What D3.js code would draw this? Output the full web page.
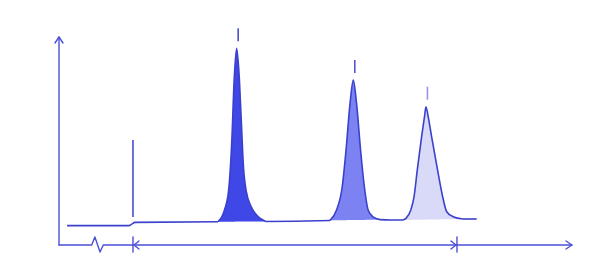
<!DOCTYPE html>
<html>
<head>
<meta charset="utf-8">
<script src="https://cdn.jsdelivr.net/npm/d3@7"></script>
<style>
  body { margin: 0; background: #fff; }
  svg { display: block; }
</style>
</head>
<body>
<svg id="chart" width="598" height="274"></svg>
<script>
// detector signal: [time (min), signal]
const baseline = [[-2.44, 9.3], [-0.15, 9.3], [0.07, 10.9], [3.15, 11.2]];
const peak1 = [[3.15, 11.2], [3.38, 16.5], [3.54, 26.0], [3.66, 50.0], [3.75, 80.0], [3.84, 94.6],
  [3.93, 82.0], [4.01, 60.1], [4.09, 38.0], [4.20, 25.5], [4.38, 18.4], [4.62, 13.8], [4.92, 11.3]];
const middle1 = [[4.92, 11.3], [6.0, 11.4], [7.30, 11.8]];
const peak2 = [[7.30, 11.8], [7.54, 16.8], [7.75, 28.0], [7.88, 44.1], [8.04, 68.1], [8.16, 79.3],
  [8.28, 68.1], [8.44, 44.1], [8.57, 28.0], [8.71, 16.8], [8.89, 13.5], [9.15, 12.2]];
const middle2 = [[9.15, 12.2], [9.52, 12.0], [10.0, 12.0]];
const peak3 = [[10.0, 12.0], [10.11, 12.8], [10.29, 16.8], [10.41, 23.2], [10.53, 36.1], [10.69, 52.1],
  [10.80, 62.0], [10.85, 66.5], [10.93, 62.0], [11.06, 52.1], [11.28, 36.1], [11.47, 23.2],
  [11.62, 16.0], [11.86, 13.6], [12.22, 12.5]];
const tail = [[12.22, 12.5], [12.73, 12.5]];

const peakFills = ["#3f47e6", "#7c82f2", "#d8daf7"];
const peakMarks = ["#4a50c8", "#5a52d0", "#9c92e8"];

const injection = { t: 0, top: 50.5, bottom: 13.5 };
const deadTimeEnd = 12;
const axisBreak = [-1.53, -1.41, -1.22, -1.10];

const lineColor = "#3b41cc";
const axisColor = "#4b4fd6";

const svg = d3.select("#chart");

// scales
const x = d3.scaleLinear().domain([-2.74, 16.26]).range([59, 572]);
const y = d3.scaleLinear().domain([0, 100]).range([245, 37]);

const line = d3.line().x(d => x(d[0])).y(d => y(d[1])).curve(d3.curveMonotoneX);

// peak fills (between trace and the straight baseline under each peak)
[peak1, peak2, peak3].forEach((pk, i) => {
  const a = pk[0], b = pk[pk.length - 1];
  const base = d3.scaleLinear().domain([a[0], b[0]]).range([a[1], b[1]]);
  const area = d3.area()
    .x(d => x(d[0]))
    .y0(d => y(base(d[0])))
    .y1(d => y(d[1]))
    .curve(d3.curveMonotoneX);
  svg.append("path").datum(pk).attr("d", area).attr("fill", peakFills[i]);
});

// trace
[baseline, peak1, middle1, peak2, middle2, peak3, tail].forEach(seg => {
  svg.append("path").datum(seg).attr("d", line)
    .attr("fill", "none").attr("stroke", lineColor)
    .attr("stroke-width", 1.6).attr("stroke-linejoin", "round");
});

// peak apex markers
[peak1, peak2, peak3].forEach((pk, i) => {
  const top = pk.reduce((m, d) => d[1] > m[1] ? d : m);
  const px = x(top[0]) + 1.5, py = y(top[1]);
  svg.append("line")
    .attr("x1", px).attr("x2", px)
    .attr("y1", py - 20).attr("y2", py - 7)
    .attr("stroke", peakMarks[i]).attr("stroke-width", 1.6);
});

// injection marker
svg.append("line")
  .attr("x1", x(injection.t)).attr("x2", x(injection.t))
  .attr("y1", y(injection.top)).attr("y2", y(injection.bottom))
  .attr("stroke", lineColor).attr("stroke-width", 1.5);

// axes
const axis = svg.append("g").attr("fill", "none").attr("stroke", axisColor)
  .attr("stroke-width", 1.4).attr("stroke-linejoin", "round").attr("stroke-linecap", "round");
const x0 = x.range()[0], x1 = x.range()[1];
const y0 = y.range()[0], yTop = y.range()[1];

// y axis with arrow
axis.append("path").attr("d", `M${x0},${y0}V${yTop}`);
axis.append("path").attr("d", `M${x0 - 4},${yTop + 6}L${x0},${yTop}L${x0 + 4},${yTop + 6}`);

// x axis with break
const b = axisBreak.map(x);
axis.append("path").attr("d",
  `M${x0},${y0}H${b[0]}L${b[1]},${y0 - 8}L${b[2]},${y0 + 7}L${b[3]},${y0}H${x1}`);
axis.append("path").attr("d", `M${x1 - 6},${y0 - 4}L${x1},${y0}L${x1 - 6},${y0 + 4}`);

// dead time span
const xi = x(injection.t), xd = x(deadTimeEnd);
[xi, xd].forEach(v => axis.append("path").attr("d", `M${v},${y0 - 8}V${y0 + 7}`));
axis.append("path").attr("d", `M${xi + 6},${y0 - 4}L${xi + 1},${y0}L${xi + 6},${y0 + 4}`);
axis.append("path").attr("d", `M${xd - 6},${y0 - 4}L${xd - 1},${y0}L${xd - 6},${y0 + 4}`);
</script>
</body>
</html>
